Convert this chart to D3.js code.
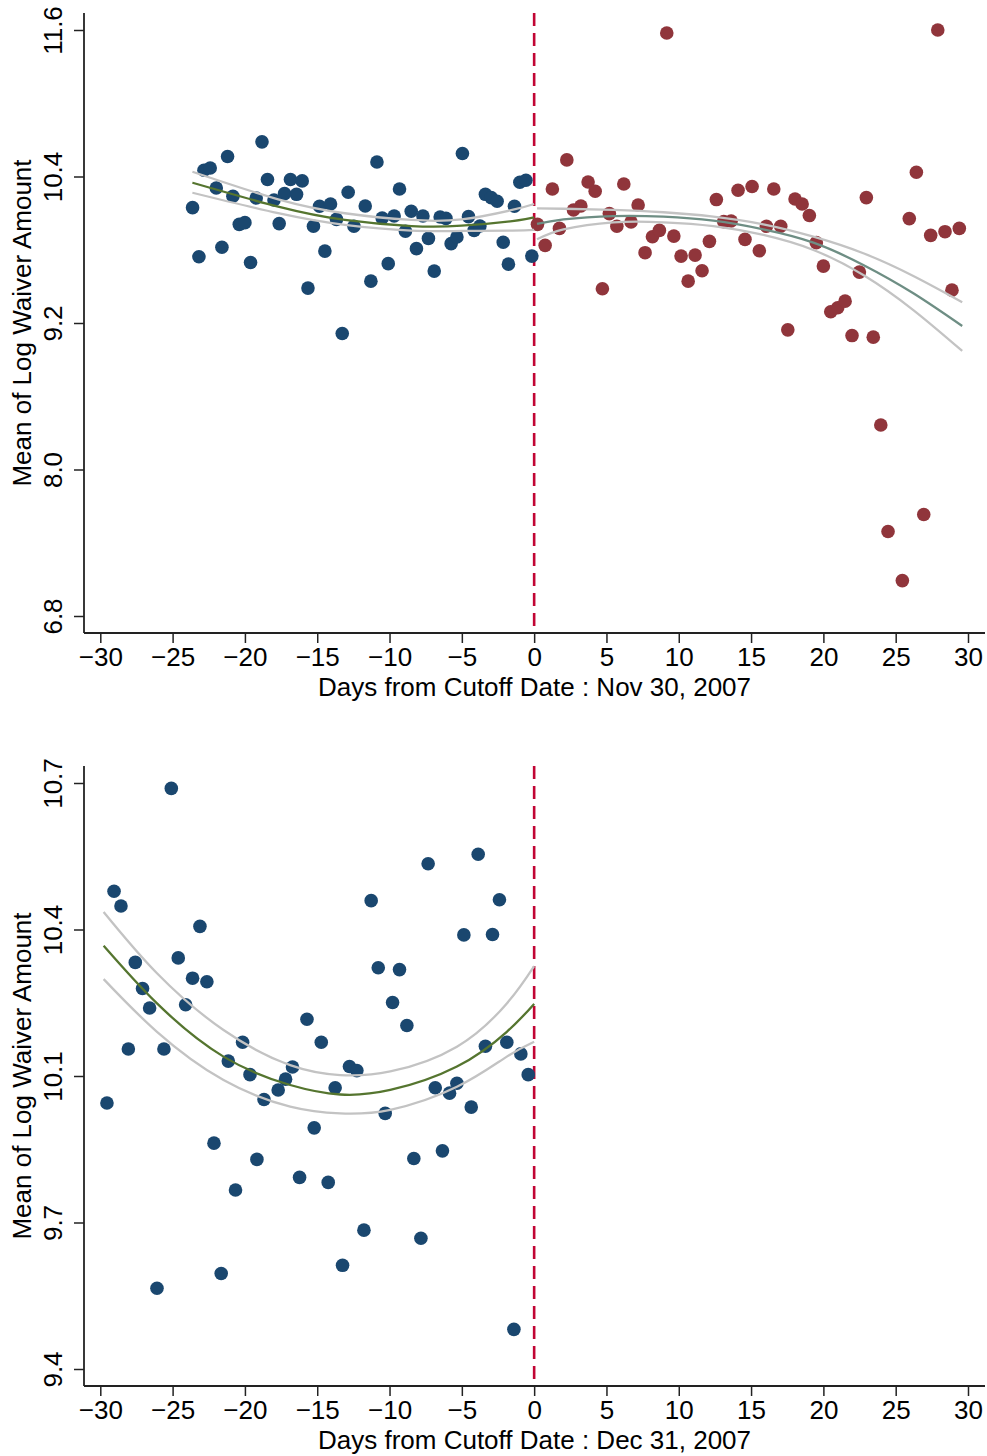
<!DOCTYPE html>
<html>
<head>
<meta charset="utf-8">
<script src="https://cdn.jsdelivr.net/npm/d3@7"></script>
<style>
    body { margin: 0; background: #fff; }
    svg text { font-family: "Liberation Sans", Arial, sans-serif; fill: #000; }
</style>
</head>
<body>
<svg id="chart" width="987" height="1456"></svg>
<script>
// ---- tick values / labels ----
const xTicks = [-30, -25, -20, -15, -10, -5, 0, 5, 10, 15, 20, 25, 30];
const topYTicks = [6.8, 8.0, 9.2, 10.4, 11.6];
const topYLabels = ["6.8", "8.0", "9.2", "10.4", "11.6"];
const botYTicks = [9.4, 9.725, 10.05, 10.375, 10.7];
const botYLabels = ["9.4", "9.7", "10.1", "10.4", "10.7"];

// ---- top panel: cutoff Nov 30, 2007 ----
const topBlueX = [-23.62,-23.18,-22.83,-22.40,-21.98,-21.59,-21.20,-20.83,-20.39,-20.00,-19.61,-19.22,-18.82,-18.44,-17.99,-17.63,-17.26,-16.85,-16.43,-16.04,-15.64,-15.26,-14.84,-14.47,-14.08,-13.67,-13.27,-12.86,-12.46,-11.68,-11.29,-10.87,-10.51,-10.09,-9.68,-9.31,-8.90,-8.50,-8.14,-7.69,-7.31,-6.91,-6.50,-6.10,-5.74,-5.34,-4.96,-4.54,-4.15,-3.75,-3.37,-2.97,-2.56,-2.14,-1.78,-1.36,-0.99,-0.57,-0.16];
const topBlueY = [10.145,9.743,10.451,10.470,10.306,9.820,10.564,10.238,10.008,10.022,9.696,10.224,10.684,10.375,10.208,10.014,10.260,10.375,10.254,10.364,9.486,9.992,10.156,9.789,10.175,10.049,9.114,10.271,9.992,10.158,9.543,10.519,10.060,9.686,10.076,10.298,9.951,10.115,9.809,10.076,9.893,9.625,10.068,10.057,9.850,9.904,10.588,10.071,9.959,9.994,10.254,10.227,10.197,9.861,9.682,10.156,10.353,10.369,9.748];

const topRedX = [0.23,0.76,1.26,1.75,2.26,2.72,3.23,3.73,4.22,4.72,5.20,5.72,6.20,6.70,7.19,7.67,8.18,8.66,9.17,9.66,10.16,10.65,11.13,11.61,12.12,12.60,13.11,13.62,14.10,14.58,15.07,15.57,16.06,16.57,17.05,17.54,18.04,18.53,19.03,19.51,20.00,20.51,20.99,21.50,21.98,22.49,22.97,23.45,23.97,24.47,25.46,25.94,26.43,26.94,27.42,27.91,28.41,28.89,29.40];
const topRedY = [10.008,9.836,10.298,9.975,10.536,10.126,10.158,10.355,10.279,9.481,10.096,9.992,10.339,10.027,10.167,9.776,9.907,9.959,11.575,9.912,9.748,9.543,9.756,9.628,9.869,10.211,10.030,10.035,10.287,9.885,10.318,9.792,9.992,10.298,9.992,9.144,10.216,10.175,10.080,9.858,9.666,9.292,9.325,9.379,9.097,9.617,10.227,9.084,8.365,7.492,7.090,10.055,10.435,7.631,9.918,11.600,9.948,9.469,9.975];

// quadratic fit + CI
const topLeftFitX = [-23.63, -17.70, -13.09, -8.48, -5.02, -1.52, 0];
const topLeftFit = [10.349, 10.153, 10.044, 9.994, 9.997, 10.035, 10.066];
const topLeftUpper = [10.439, 10.213, 10.099, 10.044, 10.049, 10.126, 10.175];
const topLeftLower = [10.267, 10.099, 10.003, 9.956, 9.954, 9.956, 9.962];

const topRightFitX = [0.2, 2.03, 5.48, 8.94, 12.39, 15.85, 19.31, 22.76, 26.22, 29.6];
const topRightFit = [10.011, 10.049, 10.076, 10.071, 10.038, 9.967, 9.858, 9.675, 9.443, 9.175];
const topRightUpper = [10.139, 10.136, 10.126, 10.107, 10.071, 10.008, 9.907, 9.771, 9.585, 9.370];
const topRightLower = [9.886, 9.967, 10.025, 10.025, 9.994, 9.921, 9.798, 9.593, 9.306, 8.971];

// ---- bottom panel: cutoff Dec 31, 2007 ----
const botBlueX = [-29.54,-29.05,-28.57,-28.06,-27.58,-27.08,-26.59,-26.08,-25.60,-25.09,-24.61,-24.10,-23.62,-23.11,-22.63,-22.14,-21.64,-21.15,-20.65,-20.16,-19.65,-19.17,-18.68,-17.70,-17.19,-16.71,-16.22,-15.71,-15.21,-14.72,-14.24,-13.76,-13.25,-12.77,-12.26,-11.77,-11.27,-10.78,-10.30,-9.79,-9.31,-8.80,-8.32,-7.83,-7.33,-6.84,-6.34,-5.85,-5.34,-4.86,-4.35,-3.87,-3.37,-2.88,-2.40,-1.89,-1.40,-0.92,-0.41];
const botBlueY = [9.990,10.460,10.427,10.110,10.302,10.244,10.201,9.579,10.110,10.688,10.312,10.208,10.267,10.382,10.259,9.901,9.612,10.083,9.797,10.125,10.053,9.865,9.998,10.019,10.043,10.070,9.825,10.176,9.935,10.125,9.814,10.024,9.630,10.071,10.062,9.708,10.439,10.290,9.967,10.213,10.286,10.162,9.867,9.690,10.521,10.024,9.884,10.012,10.034,10.363,9.981,10.542,10.116,10.364,10.441,10.125,9.488,10.099,10.053];

const botFitX = [-29.77, -26.08, -21.48, -16.87, -13.41, -9.95, -5.34, -1.89, 0];
const botFit = [10.339, 10.211, 10.093, 10.030, 10.009, 10.019, 10.071, 10.148, 10.210];
const botUpper = [10.414, 10.278, 10.152, 10.074, 10.052, 10.060, 10.115, 10.211, 10.294];
const botLower = [10.265, 10.148, 10.041, 9.982, 9.967, 9.975, 10.026, 10.093, 10.126];

// colors (stata s2color-ish)
const navy = "#1a476f", maroon = "#90353b", forest = "#55752f", teal = "#6e8e84";
const ciGray = "#c3c3c3", cranberry = "#c10534", axisColor = "#222";
const fontSize = 26;

const svg = d3.select("#chart");

// x scale is shared; plot region runs 84..985
const plotLeft = 84, plotRight = 985;
const x = d3.scaleLinear().domain([-30, 30]).range([100.3, 968]);

function zip(xs, ys) { return xs.map((v, i) => [v, ys[i]]); }

/**
 * draws one panel. yTop/yBottom = pixel pos of highest / lowest y tick
 */
function drawPanel(p) {
    let y = d3.scaleLinear().domain([p.yTicks[0], p.yTicks[p.yTicks.length - 1]]).range([p.yBottom, p.yTop]);
    let plotTop = p.yTop - 17, axisY = p.yBottom + 17;
    let g = svg.append("g");

    // cutoff line (drawn under the data like stata's xline)
    g.append("line")
        .attr("x1", x(0)).attr("x2", x(0))
        .attr("y1", plotTop).attr("y2", axisY)
        .attr("stroke", cranberry)
        .attr("stroke-width", 2.6)
        .attr("stroke-dasharray", "13,7");

    // scatter
    p.points.forEach(s => {
        g.append("g").selectAll("circle")
            .data(zip(s.x, s.y))
            .enter()
            .append("circle")
            .attr("cx", d => x(d[0]))
            .attr("cy", d => y(d[1]))
            .attr("r", 6.8)
            .attr("fill", s.color);
    });

    // fits with ci
    let line = d3.line().x(d => x(d[0])).y(d => y(d[1])).curve(d3.curveNatural);
    p.fits.forEach(f => {
        [f.upper, f.lower].forEach(ci => {
            g.append("path")
                .attr("d", line(zip(f.x, ci)))
                .attr("fill", "none")
                .attr("stroke", ciGray)
                .attr("stroke-width", 2.3);
        });
        g.append("path")
            .attr("d", line(zip(f.x, f.fit)))
            .attr("fill", "none")
            .attr("stroke", f.color)
            .attr("stroke-width", 2.3);
    });

    // x axis
    let xAxis = g.append("g")
        .attr("transform", "translate(0," + axisY + ")")
        .call(d3.axisBottom(x).tickValues(xTicks).tickSize(10));
    xAxis.attr("font-size", fontSize).attr("font-family", null).attr("color", axisColor);
    xAxis.select(".domain").remove();
    xAxis.selectAll(".tick line").attr("stroke-width", 1.5);
    xAxis.selectAll("text").attr("y", 33).attr("dy", null);
    xAxis.append("line")
        .attr("x1", plotLeft).attr("x2", plotRight)
        .attr("stroke", axisColor).attr("stroke-width", 1.8);

    // y axis, labels rotated like stata
    let yAxis = g.append("g")
        .attr("transform", "translate(" + plotLeft + ",0)")
        .call(d3.axisLeft(y).tickValues(p.yTicks).tickFormat((d, i) => p.yLabels[i]).tickSize(10));
    yAxis.attr("font-size", fontSize).attr("font-family", null).attr("color", axisColor);
    yAxis.select(".domain").remove();
    yAxis.selectAll(".tick line").attr("stroke-width", 1.5);
    yAxis.selectAll("text")
        .attr("x", 0).attr("dy", null)
        .attr("text-anchor", "middle")
        .attr("transform", "translate(-22,0) rotate(-90)");
    yAxis.append("line")
        .attr("y1", plotTop).attr("y2", axisY)
        .attr("stroke", axisColor).attr("stroke-width", 1.8);

    // titles
    g.append("text")
        .attr("x", (plotLeft + plotRight) / 2)
        .attr("y", axisY + 63)
        .attr("text-anchor", "middle")
        .attr("font-size", fontSize)
        .text(p.xTitle);

    g.append("text")
        .attr("transform", "translate(31," + (plotTop + axisY) / 2 + ") rotate(-90)")
        .attr("text-anchor", "middle")
        .attr("font-size", fontSize)
        .text("Mean of Log Waiver Amount");
}

drawPanel({
    yTicks: topYTicks, yLabels: topYLabels,
    yTop: 30, yBottom: 616,
    xTitle: "Days from Cutoff Date : Nov 30, 2007",
    points: [
        {x: topBlueX, y: topBlueY, color: navy},
        {x: topRedX, y: topRedY, color: maroon}
    ],
    fits: [
        {x: topLeftFitX, fit: topLeftFit, upper: topLeftUpper, lower: topLeftLower, color: forest},
        {x: topRightFitX, fit: topRightFit, upper: topRightUpper, lower: topRightLower, color: teal}
    ]
});

drawPanel({
    yTicks: botYTicks, yLabels: botYLabels,
    yTop: 783, yBottom: 1369,
    xTitle: "Days from Cutoff Date : Dec 31, 2007",
    points: [
        {x: botBlueX, y: botBlueY, color: navy}
    ],
    fits: [
        {x: botFitX, fit: botFit, upper: botUpper, lower: botLower, color: forest}
    ]
});
</script>
</body>
</html>
